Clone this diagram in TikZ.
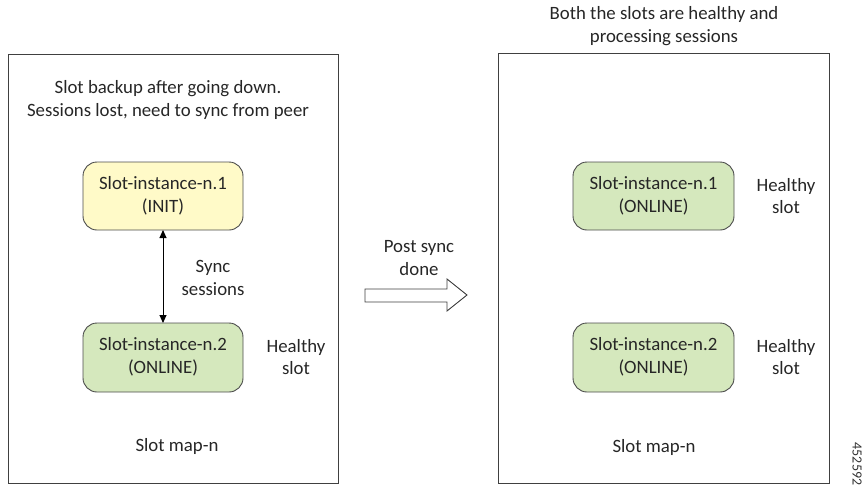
\documentclass[tikz,border=0pt]{standalone}
\usepackage{fontspec}
\setmainfont{Carlito}
\usetikzlibrary{arrows.meta}
\begin{document}
\begin{tikzpicture}[x=1pt,y=-1pt,
  frame/.style={draw=black!75,line width=1pt},
  slotbox/.style={draw=black!70,line width=0.9pt,rounded corners=14pt},
  lbl/.style={font=\fontsize{18.8}{22.5}\selectfont,text=black!85,align=center,inner sep=0pt},
  ]
\useasboundingbox (0,0) rectangle (865,493);
\definecolor{slotyellow}{RGB}{255,250,200}
\definecolor{slotgreen}{RGB}{213,232,189}
% left frame
\draw[frame] (8,54) rectangle (338,483);
\node[lbl] (ltitle) at (168,100) {Slot backup after going down.\\Sessions lost, need to sync from peer};
\filldraw[slotbox,fill=slotyellow] (83,162) rectangle (243,230);
\node[lbl] (l1) at (163,196) {Slot-instance-n.1\\(INIT)};
\filldraw[slotbox,fill=slotgreen] (83,323) rectangle (243,392);
\node[lbl] (l2) at (163,357) {Slot-instance-n.2\\(ONLINE)};
\coordinate (la) at (163,230);
\coordinate (lb) at (163,323);
\draw[line width=0.9pt,{Triangle[length=8pt,width=7pt]}-{Triangle[length=8pt,width=7pt]}] (la) -- (lb);
\node[lbl] (sync) at (213,278) {Sync\\sessions};
\node[lbl] (lh) at (296,357) {Healthy\\slot};
\node[lbl] (lmap) at (177,446) {Slot map-n};
% block arrow
\draw[line width=0.9pt,draw=black!75,fill=white] (365,289) -- (447,289) -- (447,279) -- (467,295) -- (447,311) -- (447,302) -- (365,302) -- cycle;
\node[lbl] (post) at (419,258) {Post sync\\done};
% right frame
\node[lbl] (rtitle) at (664,26) {Both the slots are healthy and\\processing sessions};
\draw[frame] (498,53) rectangle (829,483);
\filldraw[slotbox,fill=slotgreen] (573,162) rectangle (734,230);
\node[lbl] (r1) at (653.5,196) {Slot-instance-n.1\\(ONLINE)};
\filldraw[slotbox,fill=slotgreen] (573,323) rectangle (734,392);
\node[lbl] (r2) at (653.5,357) {Slot-instance-n.2\\(ONLINE)};
\node[lbl] (rh1) at (786,196) {Healthy\\slot};
\node[lbl] (rh2) at (786,357) {Healthy\\slot};
\node[lbl] (rmap) at (654,447) {Slot map-n};
\node[font=\fontsize{14}{16}\selectfont,rotate=-90,inner sep=0pt,text=black!80] (fig) at (857,464) {452592};
\end{tikzpicture}
\end{document}
